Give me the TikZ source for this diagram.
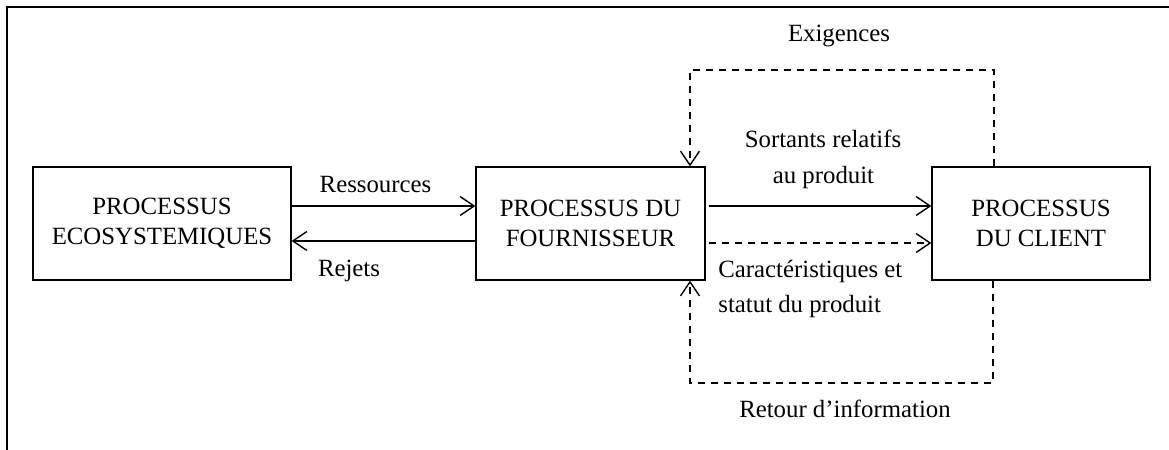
\documentclass[tikz,border=0pt]{standalone}
\usepackage{fontspec}
\setmainfont{Liberation Serif}
\usetikzlibrary{arrows.meta,calc}
\begin{document}
\begin{tikzpicture}[x=0.5pt,y=-0.5pt,
  font=\fontsize{12.4}{15}\selectfont,
  box/.style={draw, line width=0.65pt, align=center, inner sep=0pt, minimum height=56.5pt},
  lbl/.style={anchor=base, inner sep=0pt},
  conn/.style={line width=0.65pt, -{Straight Barb[length=7pt,width=9.5pt,line width=0.7pt]}},
  dsh/.style={dash pattern=on 3.5pt off 3pt}]
\useasboundingbox (0,0) rectangle (1169,450);
% page frame
\draw[line width=1pt] (7,450) -- (7,6.5) -- (1169,6.5);
% boxes
\node[box, minimum width=129pt] (eco) at (162,223.5) {PROCESSUS\\ECOSYSTEMIQUES};
\node[box, minimum width=114.5pt] (four) at (590.5,223.5) {PROCESSUS DU\\FOURNISSEUR};
\node[box, minimum width=109pt] (cli) at (1041,223.5) {PROCESSUS\\DU CLIENT};
% connectors left
\draw[conn] ($(eco.east)+(0,-17.5)$) -- ($(four.west)+(0,-17.5)$);
\draw[conn] ($(four.west)+(0,17.5)$) -- ($(eco.east)+(0,17.5)$);
% connectors right
\draw[conn] ($(four.east)+(3,-17.5)$) -- ($(cli.west)+(0,-17.5)$);
\draw[conn,dsh] ($(four.east)+(3,19.5)$) -- ($(cli.west)+(0,19.5)$);
% feedback loops
\coordinate (ex1) at (994,70);
\coordinate (ex2) at (690,70);
\draw[conn,dsh] (cli.north -| ex1) -- (ex1) -- (ex2) -- (four.north -| ex2);
\coordinate (re1) at (993,383);
\coordinate (re2) at (690,383);
\draw[conn,dsh] (cli.south -| re1) -- (re1) -- (re2) -- (four.south -| re2);
% labels
\node[lbl] (lres) at (375.5,192) {Ressources};
\node[lbl] (lrej) at (349,276) {Rejets};
\node[lbl] (lsor1) at (823,147) {Sortants relatifs};
\node[lbl] (lsor2) at (823.5,183) {au produit};
\node[lbl, anchor=base west] (lcar1) at (718,277) {Caractéristiques et};
\node[lbl, anchor=base west] (lcar2) at (718,312) {statut du produit};
\node[lbl] (lexi) at (839,41) {Exigences};
\node[lbl] (lret) at (845,417) {Retour d’information};
\end{tikzpicture}
\end{document}
